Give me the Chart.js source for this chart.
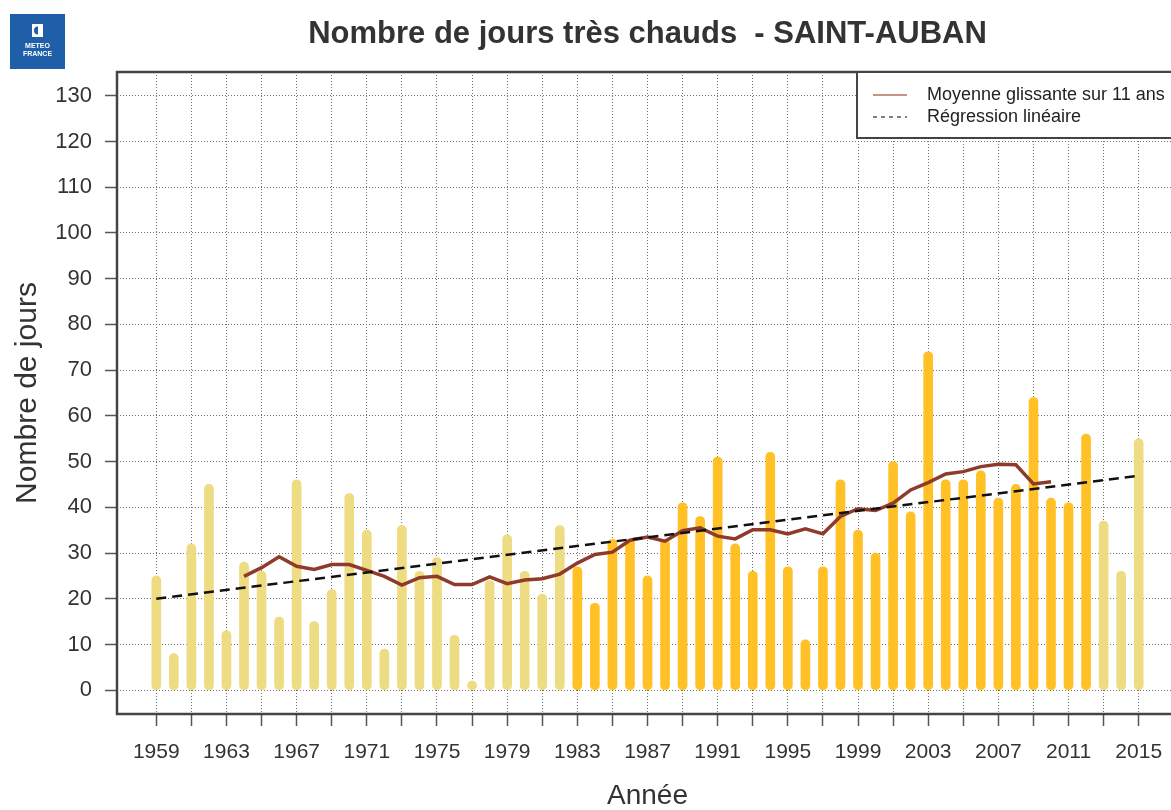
<!DOCTYPE html>
<html>
<head>
<meta charset="utf-8">
<script src="https://cdn.jsdelivr.net/npm/chart.js@4.4.1/dist/chart.umd.min.js"></script>
<style>
  html, body { margin: 0; padding: 0; background: #fff; overflow: hidden; }
  canvas { display: block; }
</style>
</head>
<body>
<canvas id="c" width="1190" height="810"></canvas>
<script>
// ---------- DATA ----------
const years = [1959,1960,1961,1962,1963,1964,1965,1966,1967,1968,1969,1970,1971,1972,1973,1974,1975,1976,
  1977,1978,1979,1980,1981,1982,1983,1984,1985,1986,1987,1988,1989,1990,1991,1992,1993,1994,
  1995,1996,1997,1998,1999,2000,2001,2002,2003,2004,2005,2006,2007,2008,2009,2010,2011,2012,2013,2014,2015];
const hotDays = [25,8,32,45,13,28,26,16,46,15,22,43,35,9,36,26,29,12,
  2,24,34,26,21,36,27,19,33,33,25,33,41,38,51,32,26,52,
  27,11,27,46,35,30,50,39,74,46,46,48,42,45,64,42,41,56,37,26,55];
const maYears = [1964,1965,1966,1967,1968,1969,1970,1971,1972,1973,1974,1975,1976,
  1977,1978,1979,1980,1981,1982,1983,1984,1985,1986,1987,1988,1989,1990,1991,1992,1993,1994,
  1995,1996,1997,1998,1999,2000,2001,2002,2003,2004,2005,2006,2007,2008,2009,2010];
const movingAvg = [24.9,26.8,29.2,27.1,26.4,27.5,27.5,26.2,24.9,23.0,24.6,24.9,23.1,
  23.1,24.8,23.3,24.1,24.4,25.4,27.8,29.7,30.2,32.8,33.5,32.6,34.9,35.5,33.7,33.1,35.1,35.1,
  34.2,35.3,34.2,38.0,39.7,39.3,40.9,43.8,45.4,47.3,47.8,48.9,49.4,49.3,45.1,45.6];
const regYears = [1959, 2015];
const regValues = [20.0, 46.9];
const highlightStart = 1983, highlightEnd = 2012;
const xGridYears = [1959,1961,1963,1965,1967,1969,1971,1973,1975,1977,1979,1981,1983,1985,1987,1989,
  1991,1993,1995,1997,1999,2001,2003,2005,2007,2009,2011,2013,2015];
const xTickLabels = ['1959','1963','1967','1971','1975','1979','1983','1987','1991','1995','1999','2003','2007','2011','2015'];
const yTicks = [0,10,20,30,40,50,60,70,80,90,100,110,120,130];

const TITLE = 'Nombre de jours très chauds  - SAINT-AUBAN';
const X_TITLE = 'Année';
const Y_TITLE = 'Nombre de jours';
const LABEL_MA = 'Moyenne glissante sur 11 ans';
const LABEL_REG = 'Régression linéaire';

// ---------- STYLE ----------
const FONT = "'Liberation Sans', Arial, sans-serif";
const LIGHT = '#EEDC82';
const ORANGE = '#FFC125';
const MA_COLOR = '#8E3B2B';
const GRID = '#6f6f6f';
const TEXT = '#333333';

const barColors = years.map(y => (y >= highlightStart && y <= highlightEnd) ? ORANGE : LIGHT);

const boxPlugin = {
  id: 'box',
  beforeDatasetsDraw(chart) {
    const {ctx, chartArea: a} = chart;
    ctx.save();
    ctx.strokeStyle = '#444';
    ctx.lineWidth = 2.5;
    ctx.strokeRect(a.left, a.top, a.right - a.left, a.bottom - a.top);
    ctx.restore();
  }
};

const legendPlugin = {
  id: 'customLegend',
  afterDatasetsDraw(chart) {
    const {ctx, chartArea: a} = chart;
    const ds = chart.data.datasets;
    const x0 = 857, y0 = a.top, h = 66;
    ctx.save();
    ctx.fillStyle = '#fff';
    ctx.fillRect(x0, y0, a.right - x0 + 10, h);
    ctx.strokeStyle = '#444';
    ctx.lineWidth = 2;
    ctx.strokeRect(x0, y0, a.right - x0 + 10, h);
    ctx.lineWidth = 1.3;
    ctx.strokeStyle = 'rgba(160,60,40,0.75)';
    ctx.beginPath(); ctx.moveTo(873, y0 + 23); ctx.lineTo(907, y0 + 23); ctx.stroke();
    ctx.strokeStyle = '#555';
    ctx.setLineDash([4, 4]);
    ctx.beginPath(); ctx.moveTo(873, y0 + 45); ctx.lineTo(907, y0 + 45); ctx.stroke();
    ctx.setLineDash([]);
    ctx.fillStyle = '#222';
    ctx.font = '18px ' + FONT;
    ctx.textBaseline = 'middle';
    ctx.textAlign = 'left';
    ctx.fillText(ds[1].label, 927, y0 + 23);
    ctx.fillText(ds[2].label, 927, y0 + 45);
    ctx.restore();
  }
};

const logoPlugin = {
  id: 'logo',
  afterDraw(chart) {
    const ctx = chart.ctx;
    ctx.save();
    ctx.fillStyle = '#1f5ea8';
    ctx.fillRect(10, 14, 55, 55);
    ctx.fillStyle = '#fff';
    ctx.fillRect(32, 24, 11, 13);
    ctx.fillStyle = '#1f5ea8';
    ctx.beginPath(); ctx.arc(38, 30.5, 4, Math.PI * 0.5, Math.PI * 1.5); ctx.fill();
    ctx.fillStyle = '#fff';
    ctx.font = 'bold 7px ' + FONT;
    ctx.textAlign = 'center';
    ctx.textBaseline = 'middle';
    ctx.fillText('METEO', 37.5, 46);
    ctx.fillText('FRANCE', 37.5, 54);
    ctx.restore();
  }
};

new Chart(document.getElementById('c'), {
  type: 'bar',
  data: {
    datasets: [
      {
        type: 'bar',
        label: 'Nombre de jours',
        data: years.map((y, i) => ({x: y, y: hotDays[i]})),
        backgroundColor: barColors,
        barThickness: 9,
        borderRadius: 4.5,
        borderSkipped: false,
        order: 3
      },
      {
        type: 'line',
        label: LABEL_MA,
        data: maYears.map((y, i) => ({x: y, y: movingAvg[i]})),
        borderColor: MA_COLOR,
        borderWidth: 3.5,
        pointRadius: 0,
        tension: 0,
        fill: false,
        order: 2
      },
      {
        type: 'line',
        label: LABEL_REG,
        data: regYears.map((y, i) => ({x: y, y: regValues[i]})),
        borderColor: '#111',
        borderWidth: 2.5,
        borderDash: [10, 6],
        pointRadius: 0,
        fill: false,
        order: 1
      }
    ]
  },
  options: {
    responsive: false,
    animation: false,
    layout: { padding: { left: 0, right: 12, top: 0, bottom: 0 } },
    plugins: {
      legend: { display: false },
      tooltip: { enabled: false },
      title: {
        display: true,
        fullSize: false,
        text: TITLE,
        color: TEXT,
        font: { family: FONT, size: 31, weight: 'bold', lineHeight: 1.2 },
        padding: { top: 16, bottom: 18.8 }
      }
    },
    scales: {
      x: {
        type: 'linear',
        min: 1956.76,
        max: 2017.24,
        offset: false,
        afterBuildTicks: s => { s.ticks = xGridYears.map(v => ({value: v})); },
        afterFit: s => { s.height = 96; },
        ticks: {
          autoSkip: false,
          maxRotation: 0,
          color: TEXT,
          font: { family: FONT, size: 21 },
          padding: 14,
          callback: v => xTickLabels.includes(String(v)) ? String(v) : ''
        },
        grid: {
          offset: false,
          color: GRID,
          lineWidth: 1,
          drawTicks: true,
          tickLength: 12,
          tickColor: '#555',
          tickWidth: 1.5,
          tickBorderDash: []
        },
        border: { display: false, dash: [1, 2] },
        title: {
          display: true,
          text: X_TITLE,
          color: TEXT,
          font: { family: FONT, size: 28, lineHeight: 1 },
          padding: { top: 0, bottom: 0 }
        }
      },
      y: {
        type: 'linear',
        min: -5.2,
        max: 135.2,
        afterBuildTicks: s => { s.ticks = yTicks.map(v => ({value: v})); },
        afterFit: s => { s.width = 117; },
        ticks: {
          color: TEXT,
          font: { family: FONT, size: 22 },
          padding: 13,
          callback: v => String(v)
        },
        grid: {
          color: GRID,
          lineWidth: 1,
          drawTicks: true,
          tickLength: 12,
          tickColor: '#555',
          tickWidth: 1.5,
          tickBorderDash: []
        },
        border: { display: false, dash: [1, 2] },
        title: {
          display: true,
          text: Y_TITLE,
          color: TEXT,
          font: { family: FONT, size: 30, lineHeight: 1.2 },
          padding: { top: 10, bottom: 0 }
        }
      }
    }
  },
  plugins: [boxPlugin, legendPlugin, logoPlugin]
});
</script>
</body>
</html>
